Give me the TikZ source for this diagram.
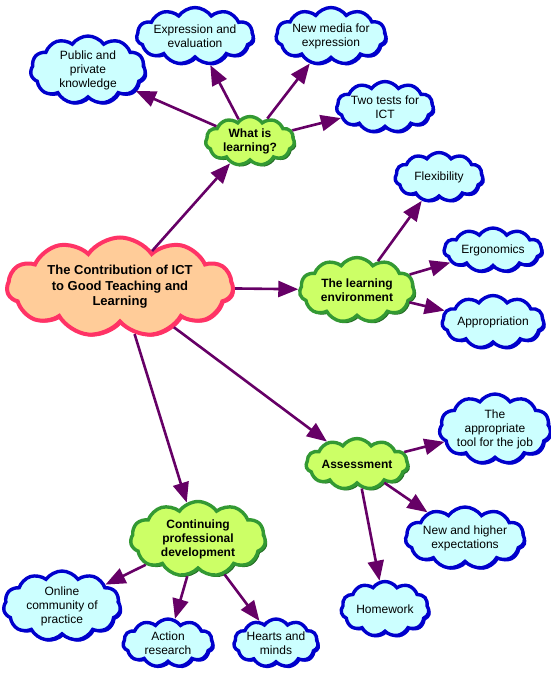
\documentclass[tikz,border=0pt]{standalone}
\usepackage{fontspec}
\setmainfont{Liberation Sans}
\usetikzlibrary{shapes.symbols,arrows.meta,shadows}
\definecolor{leaffill}{HTML}{CCFFFF}
\definecolor{leafline}{HTML}{0000CC}
\definecolor{topicfill}{HTML}{CCFF66}
\definecolor{topicline}{HTML}{339933}
\definecolor{rootfill}{HTML}{FFCC99}
\definecolor{rootline}{HTML}{FF3366}
\definecolor{linkcol}{HTML}{660066}

\begin{document}
\begin{tikzpicture}[x=1pt,y=-1pt,-{Triangle[length=20pt,width=16pt]}]
  \tikzstyle{blob}=[cloud,cloud puffs=11,cloud puff arc=110,cloud ignores aspect,
    inner sep=0pt,align=center,line width=3.4pt,font=\fontsize{12}{14}\selectfont]
  \tikzstyle{leaf}=[blob,draw=leafline,fill=leaffill,
    general shadow={shadow xshift=2pt,shadow yshift=-2pt,fill=leafline}]
  \tikzstyle{topic}=[blob,draw=topicline,fill=topicfill,font=\fontsize{12}{14}\selectfont\bfseries,
    general shadow={shadow xshift=2pt,shadow yshift=-2pt,fill=topicline!70!black}]
  \tikzstyle{root}=[blob,draw=rootline,fill=rootfill,line width=4pt,
    font=\fontsize{13}{15.5}\selectfont\bfseries,
    general shadow={shadow xshift=2pt,shadow yshift=-2pt,fill=rootline}]
  \tikzstyle{link}=[draw=linkcol,fill=linkcol,line width=2.6pt]
  \useasboundingbox (0,0) rectangle (550,677);

  \node[root,minimum width=226pt,minimum height=99pt] (ICT) at (120,287) {The Contribution of ICT\\to Good Teaching and\\Learning};

  \node[topic,minimum width=89pt,minimum height=49pt] (Learn) at (250,141) {What is\\learning?};
  \node[leaf,minimum width=115pt,minimum height=68pt] (Public) at (88,70) {Public and\\private\\knowledge};
  \node[leaf,minimum width=103pt,minimum height=57pt] (Express) at (195,36) {Expression and\\evaluation};
  \node[leaf,minimum width=102pt,minimum height=57pt] (Media) at (331,36) {New media for\\expression};
  \node[leaf,minimum width=86pt,minimum height=51pt] (Tests) at (385,107) {Two tests for\\ICT};

  \node[topic,minimum width=115pt,minimum height=65pt] (Env) at (357,290) {The learning\\environment};
  \node[leaf,minimum width=88pt,minimum height=49pt] (Flex) at (439,177) {Flexibility};
  \node[leaf,minimum width=98pt,minimum height=44pt] (Ergo) at (493,250) {Ergonomics};
  \node[leaf,minimum width=102pt,minimum height=53pt] (Approp) at (493,322) {Appropriation};

  \node[topic,minimum width=102pt,minimum height=51pt] (Assess) at (357,464) {Assessment};
  \node[leaf,minimum width=102pt,minimum height=70pt] (Tool) at (495,429) {The\\appropriate\\tool for the job};
  \node[leaf,minimum width=112pt,minimum height=62pt] (Expect) at (465,538) {New and higher\\expectations};
  \node[leaf,minimum width=88pt,minimum height=55pt] (Home) at (385,609) {Homework};

  \node[topic,minimum width=135pt,minimum height=75pt] (CPD) at (198,539) {Continuing\\professional\\development};
  \node[leaf,minimum width=117pt,minimum height=70pt] (Online) at (62,606) {Online\\community of\\practice};
  \node[leaf,minimum width=90pt,minimum height=48pt] (Action) at (168,643) {Action\\research};
  \node[leaf,minimum width=84pt,minimum height=48pt] (Hearts) at (276,643) {Hearts and\\minds};

  \draw[link] (ICT) -- (Learn);
  \draw[link] (ICT) -- (Env);
  \draw[link] (ICT) -- (Assess);
  \draw[link] (ICT) -- (CPD);
  \draw[link] (Learn) -- (Public);
  \draw[link] (Learn) -- (Express);
  \draw[link] (Learn) -- (Media);
  \draw[link] (Learn) -- (Tests);
  \draw[link] (Env) -- (Flex);
  \draw[link] (Env) -- (Ergo);
  \draw[link] (Env) -- (Approp);
  \draw[link] (Assess) -- (Tool);
  \draw[link] (Assess) -- (Expect);
  \draw[link] (Assess) -- (Home);
  \draw[link] (CPD) -- (Online);
  \draw[link] (CPD) -- (Action);
  \draw[link] (CPD) -- (Hearts);
\end{tikzpicture}
\end{document}
